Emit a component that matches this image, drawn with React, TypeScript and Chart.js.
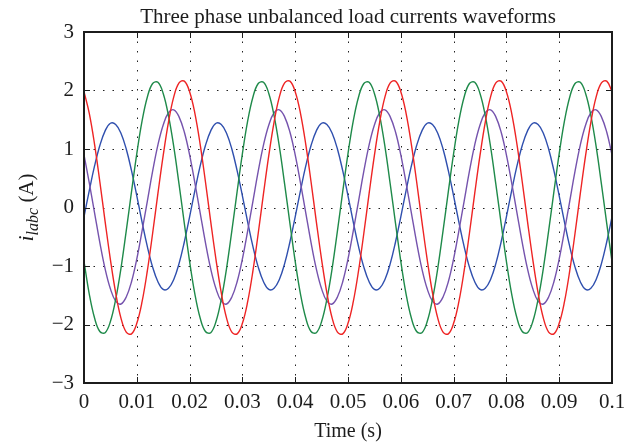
import React, { useEffect, useRef } from 'react';
import { Chart, registerables } from 'chart.js';

Chart.register(...registerables);

// ---- text ----
const TITLE = 'Three phase unbalanced load currents waveforms';
const X_LABEL = 'Time (s)';
const Y_MAIN = 'i';
const Y_SUB = 'labc';
const Y_UNIT = ' (A)';

// ---- axes ----
const X_TICKS = [0, 0.01, 0.02, 0.03, 0.04, 0.05, 0.06, 0.07, 0.08, 0.09, 0.1];
const Y_TICKS = [-3, -2, -1, 0, 1, 2, 3];

// sample instants: one reading every 1 ms from 0 to 0.1 s
const TIME_S = Array.from({ length: 101 }, (_, i) => i / 1000);

// ---- series (A) at 1 ms steps ----
const RED = [
  1.98, 1.61, 1.08, 0.44, -0.24, -0.89, -1.46, -1.89, -2.13, -2.16, -1.98, -1.61, -1.08, -0.44, 0.24, 0.89, 1.46, 1.89, 2.13, 2.16,
  1.98, 1.61, 1.08, 0.44, -0.24, -0.89, -1.46, -1.89, -2.13, -2.16, -1.98, -1.61, -1.08, -0.44, 0.24, 0.89, 1.46, 1.89, 2.13, 2.16,
  1.98, 1.61, 1.08, 0.44, -0.24, -0.89, -1.46, -1.89, -2.13, -2.16, -1.98, -1.61, -1.08, -0.44, 0.24, 0.89, 1.46, 1.89, 2.13, 2.16,
  1.98, 1.61, 1.08, 0.44, -0.24, -0.89, -1.46, -1.89, -2.13, -2.16, -1.98, -1.61, -1.08, -0.44, 0.24, 0.89, 1.46, 1.89, 2.13, 2.16,
  1.98, 1.61, 1.08, 0.44, -0.24, -0.89, -1.46, -1.89, -2.13, -2.16, -1.98, -1.61, -1.08, -0.44, 0.24, 0.89, 1.46, 1.89, 2.13, 2.16,
  1.98,
];
const GREEN = [
  -0.92, -1.48, -1.89, -2.12, -2.14, -1.95, -1.57, -1.04, -0.40, 0.27, 0.92, 1.48, 1.89, 2.12, 2.14, 1.95, 1.57, 1.04, 0.40, -0.27,
  -0.92, -1.48, -1.89, -2.12, -2.14, -1.95, -1.57, -1.04, -0.40, 0.27, 0.92, 1.48, 1.89, 2.12, 2.14, 1.95, 1.57, 1.04, 0.40, -0.27,
  -0.92, -1.48, -1.89, -2.12, -2.14, -1.95, -1.57, -1.04, -0.40, 0.27, 0.92, 1.48, 1.89, 2.12, 2.14, 1.95, 1.57, 1.04, 0.40, -0.27,
  -0.92, -1.48, -1.89, -2.12, -2.14, -1.95, -1.57, -1.04, -0.40, 0.27, 0.92, 1.48, 1.89, 2.12, 2.14, 1.95, 1.57, 1.04, 0.40, -0.27,
  -0.92, -1.48, -1.89, -2.12, -2.14, -1.95, -1.57, -1.04, -0.40, 0.27, 0.92, 1.48, 1.89, 2.12, 2.14, 1.95, 1.57, 1.04, 0.40, -0.27,
  -0.92,
];
const BLUE = [
  -0.16, 0.29, 0.71, 1.06, 1.31, 1.44, 1.42, 1.27, 1.00, 0.63, 0.20, -0.25, -0.67, -1.02, -1.27, -1.40, -1.38, -1.23, -0.96, -0.59,
  -0.16, 0.29, 0.71, 1.06, 1.31, 1.44, 1.42, 1.27, 1.00, 0.63, 0.20, -0.25, -0.67, -1.02, -1.27, -1.40, -1.38, -1.23, -0.96, -0.59,
  -0.16, 0.29, 0.71, 1.06, 1.31, 1.44, 1.42, 1.27, 1.00, 0.63, 0.20, -0.25, -0.67, -1.02, -1.27, -1.40, -1.38, -1.23, -0.96, -0.59,
  -0.16, 0.29, 0.71, 1.06, 1.31, 1.44, 1.42, 1.27, 1.00, 0.63, 0.20, -0.25, -0.67, -1.02, -1.27, -1.40, -1.38, -1.23, -0.96, -0.59,
  -0.16, 0.29, 0.71, 1.06, 1.31, 1.44, 1.42, 1.27, 1.00, 0.63, 0.20, -0.25, -0.67, -1.02, -1.27, -1.40, -1.38, -1.23, -0.96, -0.59,
  -0.16,
];
const PURPLE = [
  0.90, 0.42, -0.09, -0.60, -1.05, -1.39, -1.60, -1.65, -1.53, -1.27, -0.88, -0.40, 0.11, 0.62, 1.07, 1.41, 1.62, 1.67, 1.55, 1.29,
  0.90, 0.42, -0.09, -0.60, -1.05, -1.39, -1.60, -1.65, -1.53, -1.27, -0.88, -0.40, 0.11, 0.62, 1.07, 1.41, 1.62, 1.67, 1.55, 1.29,
  0.90, 0.42, -0.09, -0.60, -1.05, -1.39, -1.60, -1.65, -1.53, -1.27, -0.88, -0.40, 0.11, 0.62, 1.07, 1.41, 1.62, 1.67, 1.55, 1.29,
  0.90, 0.42, -0.09, -0.60, -1.05, -1.39, -1.60, -1.65, -1.53, -1.27, -0.88, -0.40, 0.11, 0.62, 1.07, 1.41, 1.62, 1.67, 1.55, 1.29,
  0.90, 0.42, -0.09, -0.60, -1.05, -1.39, -1.60, -1.65, -1.53, -1.27, -0.88, -0.40, 0.11, 0.62, 1.07, 1.41, 1.62, 1.67, 1.55, 1.29,
  0.90,
];

const SERIES = [
  { name: 'red', values: RED, color: '#ee2424' },
  { name: 'green', values: GREEN, color: '#1f8a4a' },
  { name: 'purple', values: PURPLE, color: '#7553ad' },
  { name: 'blue', values: BLUE, color: '#2f4fae' },
];

const FONT = '"Liberation Serif", "Times New Roman", serif';
const INK = '#1c1c1c';

const decor = {
  id: 'decor',
  beforeDatasetsDraw(chart: any) {
    const { ctx, chartArea: a, scales } = chart;
    ctx.save();
    ctx.strokeStyle = '#222';
    ctx.lineWidth = 1;
    ctx.setLineDash([1.5, 8]);
    for (const v of X_TICKS) {
      const x = Math.round(scales.x.getPixelForValue(v)) + 0.5;
      if (x <= a.left + 2 || x >= a.right - 2) continue;
      ctx.beginPath();
      ctx.moveTo(x, a.top);
      ctx.lineTo(x, a.bottom);
      ctx.stroke();
    }
    for (const v of Y_TICKS) {
      const y = Math.round(scales.y.getPixelForValue(v)) + 0.5;
      if (y <= a.top + 2 || y >= a.bottom - 2) continue;
      ctx.beginPath();
      ctx.moveTo(a.left, y);
      ctx.lineTo(a.right, y);
      ctx.stroke();
    }
    ctx.restore();
  },
  afterDatasetsDraw(chart: any) {
    const { ctx, chartArea: a, scales } = chart;
    ctx.save();
    // inward tick marks
    ctx.strokeStyle = INK;
    ctx.lineWidth = 1;
    const tl = 6;
    for (const v of X_TICKS) {
      const x = Math.round(scales.x.getPixelForValue(v)) + 0.5;
      ctx.beginPath();
      ctx.moveTo(x, a.bottom);
      ctx.lineTo(x, a.bottom - tl);
      ctx.moveTo(x, a.top);
      ctx.lineTo(x, a.top + tl);
      ctx.stroke();
    }
    for (const v of Y_TICKS) {
      const y = Math.round(scales.y.getPixelForValue(v)) + 0.5;
      ctx.beginPath();
      ctx.moveTo(a.left, y);
      ctx.lineTo(a.left + tl, y);
      ctx.moveTo(a.right, y);
      ctx.lineTo(a.right - tl, y);
      ctx.stroke();
    }
    // frame
    ctx.lineWidth = 2;
    ctx.strokeRect(a.left, a.top, a.right - a.left, a.bottom - a.top);

    // title
    const cx = (a.left + a.right) / 2;
    ctx.fillStyle = INK;
    ctx.textAlign = 'center';
    ctx.textBaseline = 'alphabetic';
    ctx.font = `21px ${FONT}`;
    ctx.fillText(TITLE, cx, 23);
    // x label
    ctx.font = `20px ${FONT}`;
    ctx.fillText(X_LABEL, cx, 437);

    // y label with subscript
    const cy = (a.top + a.bottom) / 2;
    ctx.translate(33, cy);
    ctx.rotate(-Math.PI / 2);
    ctx.textAlign = 'left';
    const fMain = `italic 22px ${FONT}`;
    const fSub = `italic 16px ${FONT}`;
    const fUnit = `21px ${FONT}`;
    ctx.font = fMain;
    const w1 = ctx.measureText(Y_MAIN).width;
    ctx.font = fSub;
    const w2 = ctx.measureText(Y_SUB).width;
    ctx.font = fUnit;
    const w3 = ctx.measureText(Y_UNIT).width;
    let x0 = -(w1 + w2 + w3) / 2;
    ctx.font = fMain;
    ctx.fillText(Y_MAIN, x0, 0);
    x0 += w1;
    ctx.font = fSub;
    ctx.fillText(Y_SUB, x0, 5);
    x0 += w2;
    ctx.font = fUnit;
    ctx.fillText(Y_UNIT, x0, 0);
    ctx.restore();
  },
};

export default function App() {
  const ref = useRef<HTMLCanvasElement | null>(null);
  useEffect(() => {
    if (!ref.current) return;
    const chart = new Chart(ref.current, {
      type: 'line',
      data: {
        datasets: SERIES.map((s) => ({
          label: s.name,
          data: s.values.map((v, i) => ({ x: TIME_S[i], y: v })),
          borderColor: s.color,
          backgroundColor: s.color,
          borderWidth: 1.4,
          pointRadius: 0,
          tension: 0.4,
          fill: false,
        })),
      },
      options: {
        responsive: false,
        animation: false,
        parsing: false as any,
        normalized: true,
        layout: { padding: { top: 32, right: 25, left: 0, bottom: 0 } },
        plugins: { legend: { display: false }, tooltip: { enabled: false }, title: { display: false } },
        scales: {
          x: {
            type: 'linear',
            min: 0,
            max: 0.1,
            afterBuildTicks: (s: any) => {
              s.ticks = X_TICKS.map((v) => ({ value: v }));
            },
            afterFit: (s: any) => {
              s.height = 63;
            },
            grid: { display: false, drawTicks: false },
            border: { display: false },
            ticks: {
              autoSkip: false,
              maxRotation: 0,
              padding: 7,
              color: INK,
              font: { family: FONT, size: 21 },
              callback: (v: any) => String(Math.round(Number(v) * 100) / 100),
            },
          },
          y: {
            type: 'linear',
            min: -3,
            max: 3,
            afterBuildTicks: (s: any) => {
              s.ticks = Y_TICKS.map((v) => ({ value: v }));
            },
            afterFit: (s: any) => {
              s.width = 84;
            },
            grid: { display: false, drawTicks: false },
            border: { display: false },
            ticks: {
              padding: 10,
              color: INK,
              font: { family: FONT, size: 21 },
              callback: (v: any) => (Number(v) < 0 ? '\u2212' + Math.abs(Number(v)) : String(v)),
            },
          },
        },
      },
      plugins: [decor],
    });
    return () => chart.destroy();
  }, []);
  return (
    <div style={{ position: 'fixed', left: 0, top: 0, width: 637, height: 446, background: '#fff' }}>
      <canvas ref={ref} width={637} height={446} style={{ display: 'block' }} />
    </div>
  );
}
